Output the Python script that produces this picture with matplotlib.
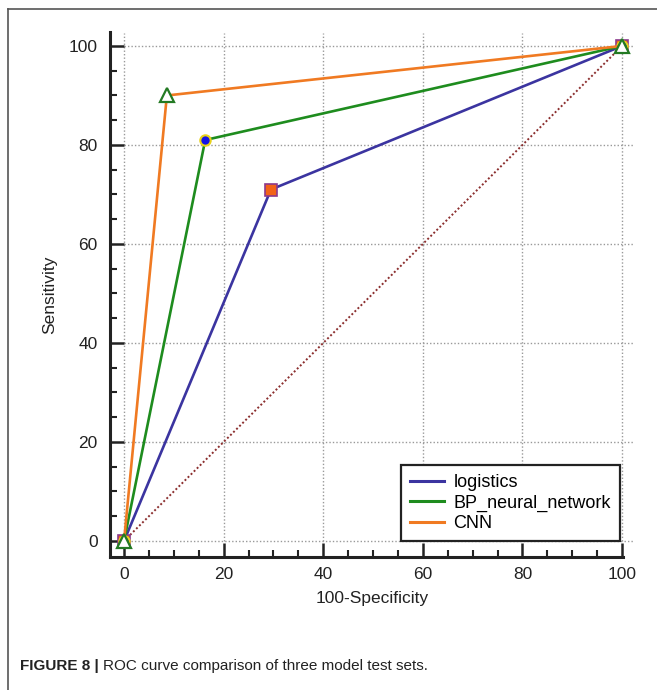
import matplotlib
matplotlib.use("Agg")
import matplotlib.pyplot as plt
from matplotlib.lines import Line2D
import numpy as np

plt.rcParams['font.family'] = ['Liberation Sans', 'DejaVu Sans']

# Data
fpr_logistics = [0, 29.5, 100]
tpr_logistics = [0, 71, 100]
fpr_bp = [0, 16.3, 100]
tpr_bp = [0, 81, 100]
fpr_cnn = [0, 8.6, 100]
tpr_cnn = [0, 90, 100]
labels = ["logistics", "BP_neural_network", "CNN"]
major_ticks = [0, 20, 40, 60, 80, 100]

W, H = 657, 690
fig = plt.figure(figsize=(W / 100, H / 100), dpi=100)

# outer border
fig.add_artist(Line2D([8 / W, 1.0], [1 - 9 / H, 1 - 9 / H], color='#555555', lw=1.2))
fig.add_artist(Line2D([8 / W, 8 / W], [0, 1 - 9 / H], color='#555555', lw=1.2))

x0, x1 = -2.8, 102.5
y0, y1 = -3.2, 102.8
ax = fig.add_axes([110.1 / W, 1 - 556.8 / H, 524.4 / W, 524.7 / H])
ax.set_xlim(x0, x1)
ax.set_ylim(y0, y1)

# grid (dotted)
for v in major_ticks:
    ax.vlines(v, 0, 102.6, colors='#999999', linestyles=(0, (1, 1.5)), lw=1.0, zorder=1)
    ax.hlines(v, 0, 102.2, colors='#999999', linestyles=(0, (1, 1.5)), lw=1.0, zorder=1)

# diagonal reference
ax.plot([0, 100], [0, 100], color='#8b2e2e', ls=(0, (1, 1.2)), lw=1.4, zorder=2)

lw = 1.9
ax.plot(fpr_logistics, tpr_logistics, color='#3b34a0', lw=lw, zorder=3,
        marker='s', ms=8, mfc='#f26318', mec='#8c3a8c', mew=1.2, label=labels[0])
ax.plot(fpr_bp, tpr_bp, color='#1e8c1e', lw=lw, zorder=4,
        marker='o', ms=7.5, mfc='#1414e6', mec='#e8d21a', mew=1.5, label=labels[1])
ax.plot(fpr_cnn, tpr_cnn, color='#f07a22', lw=lw, zorder=5,
        marker='^', ms=10, mfc='white', mec='#237a23', mew=1.6, label=labels[2])

# spines
for s in ['top', 'right']:
    ax.spines[s].set_visible(False)
for s in ['left', 'bottom']:
    ax.spines[s].set_linewidth(2.2)
    ax.spines[s].set_color('#222222')
ax.spines['bottom'].set_bounds(x0, 100.2)

ax.set_xticks(major_ticks)
ax.set_yticks(major_ticks)
ax.set_xticks(np.arange(5, 100, 5), minor=True)
ax.set_yticks(np.arange(5, 100, 5), minor=True)
ax.tick_params(which='major', direction='in', length=10, width=1.8, color='#222222',
               labelsize=12.5, pad=8, labelcolor='#222222')
ax.tick_params(which='minor', direction='in', length=5, width=1.5, color='#222222')
ax.tick_params(axis='y', which='major', pad=9)
ax.tick_params(axis='x', which='major', pad=7)

ax.set_xlabel("100-Specificity", fontsize=12.5, labelpad=7, color='#222222')
ax.set_ylabel("Sensitivity", fontsize=12.5, labelpad=8, color='#222222')

leg = ax.legend(loc='lower right', bbox_to_anchor=(620 / W, 1 - 541 / H),
                bbox_transform=fig.transFigure, borderaxespad=0, fontsize=13,
                fancybox=False, framealpha=1, edgecolor='#222222',
                handlelength=1.9, handletextpad=0.5, labelspacing=0.18,
                borderpad=0.5, borderaxespad_=None) if False else ax.legend(
                loc='lower right', bbox_to_anchor=(620 / W, 1 - 541 / H),
                bbox_transform=fig.transFigure, borderaxespad=0, fontsize=13,
                fancybox=False, framealpha=1, edgecolor='#222222',
                handlelength=1.9, handletextpad=0.5, labelspacing=0.18,
                borderpad=0.5, markerscale=0)
leg.get_frame().set_linewidth(1.6)
for h in leg.legend_handles:
    h.set_marker('')
    h.set_linewidth(2.2)

# caption
cap_y = 1 - 666 / H
t1 = fig.text(20 / W, cap_y, "FIGURE 8 |", fontsize=11, fontweight='bold',
              va='center', ha='left', color='#222222')
fig.canvas.draw()
bb = t1.get_window_extent()
fig.text((bb.x1 + 4) / W, cap_y, "ROC curve comparison of three model test sets.",
         fontsize=11, va='center', ha='left', color='#222222')

fig.savefig("out.png", dpi=100)
